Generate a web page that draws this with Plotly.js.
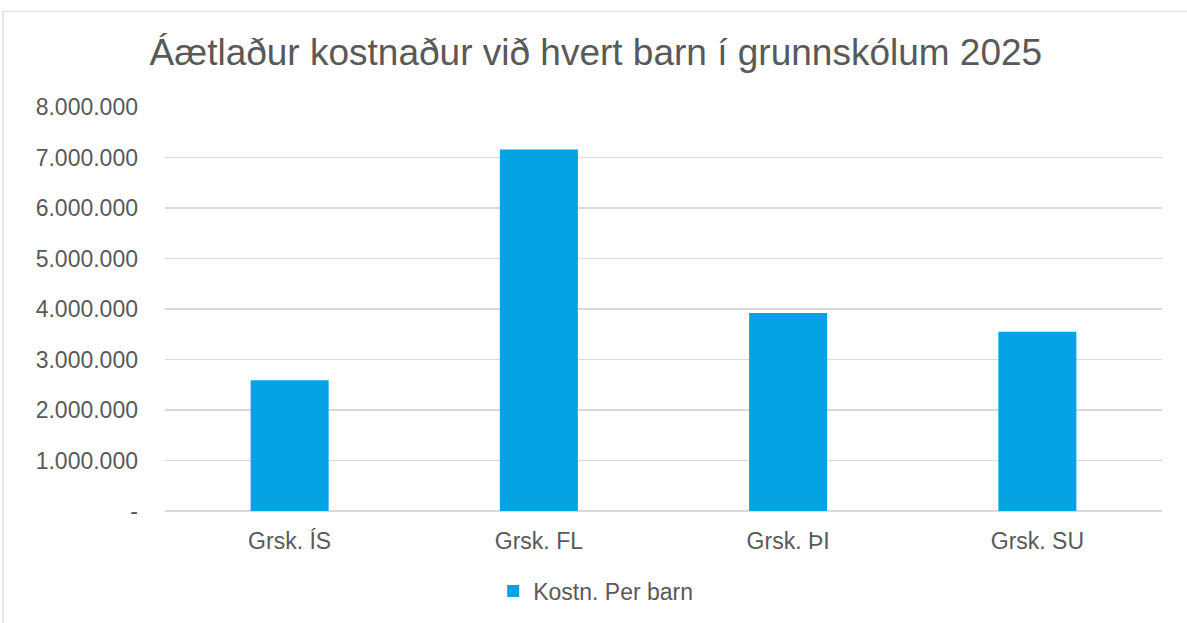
<!DOCTYPE html>
<html><head><meta charset="utf-8">
<script src="https://cdn.plot.ly/plotly-3.0.1.min.js"></script>
<style>html,body{margin:0;padding:0;background:#fff}#c{width:1187px;height:623px}</style>
</head><body><div id="c"></div>
<script>
const categories = ["Grsk. ÍS", "Grsk. FL", "Grsk. ÞI", "Grsk. SU"];
const values = [2590000, 7160000, 3920000, 3550000];
const seriesName = "Kostn. Per barn";
const yTickVals = [0, 1000000, 2000000, 3000000, 4000000, 5000000, 6000000, 7000000, 8000000];
const yTickText = ["-", "1.000.000", "2.000.000", "3.000.000", "4.000.000", "5.000.000", "6.000.000", "7.000.000", "8.000.000"];

const font = "Liberation Sans, Arial, sans-serif";
const grey = "#595959";
Plotly.newPlot("c", [{
  type: "bar", x: categories, y: values, name: seriesName,
  marker: {color: "#05A2E4"}, showlegend: true, hoverinfo: "x+y"
}], {
  width: 1187, height: 623,
  margin: {l: 165, r: 25, t: 107, b: 111},
  paper_bgcolor: "#fff", plot_bgcolor: "#fff",
  title: {text: "Áætlaður kostnaður við hvert barn í grunnskólum 2025", x: 0.502, xanchor: "center", y: 0.917, yanchor: "middle",
    font: {family: font, size: 37, color: grey}},
  bargap: 0.687,
  xaxis: {tickfont: {family: font, size: 23, color: grey}, showline: false, ticks: "", showgrid: false, ticklabelstandoff: 14},
  yaxis: {range: [0, 8000000], tickvals: yTickVals, ticktext: yTickText, tickfont: {family: font, size: 23, color: grey},
    showgrid: true, gridcolor: "#D9D9D9", gridwidth: 1.3, zeroline: true, zerolinecolor: "#D9D9D9", zerolinewidth: 1.3,
    ticks: "", ticklen: 0, automargin: false, ticklabelstandoff: 26},
  legend: {orientation: "h", x: 0.432, xanchor: "center", y: -0.195, yanchor: "middle", font: {family: font, size: 23, color: grey}},
  shapes: [{type: "rect", xref: "paper", yref: "paper", x0: -0.1625, x1: 1.03, y0: -0.3, y1: 1.237,
    line: {color: "#D9D9D9", width: 1.2}, fillcolor: "rgba(0,0,0,0)", layer: "below"}]
}, {displayModeBar: false, staticPlot: true});
</script></body></html>
